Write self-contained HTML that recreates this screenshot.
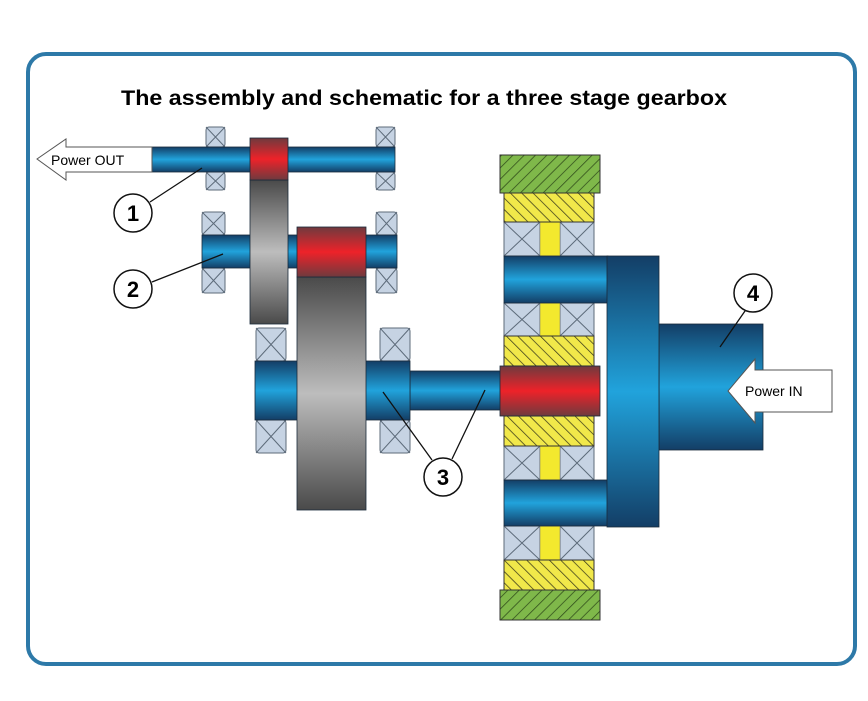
<!DOCTYPE html>
<html><head><meta charset="utf-8"><style>html,body{margin:0;padding:0;background:#fff}svg{display:block}</style></head>
<body>
<svg width="868" height="701" viewBox="0 0 868 701" xmlns="http://www.w3.org/2000/svg">
<defs>
<linearGradient id="bl" x1="0" y1="0" x2="0" y2="1">
<stop offset="0" stop-color="#133e66"/><stop offset="0.5" stop-color="#21a3dc"/><stop offset="1" stop-color="#133e66"/></linearGradient>
<linearGradient id="rd" x1="0" y1="0" x2="0" y2="1">
<stop offset="0" stop-color="#6f3a3e"/><stop offset="0.5" stop-color="#ee2229"/><stop offset="1" stop-color="#6f3a3e"/></linearGradient>
<linearGradient id="gy" x1="0" y1="0" x2="0" y2="1">
<stop offset="0" stop-color="#4a4a4a"/><stop offset="0.5" stop-color="#bdbdbd"/><stop offset="1" stop-color="#4a4a4a"/></linearGradient>
<pattern id="gh" width="8" height="8" patternUnits="userSpaceOnUse" patternTransform="rotate(45)">
<rect width="8" height="8" fill="#7fb84a"/><line x1="0" y1="0" x2="0" y2="8" stroke="#2f4a1a" stroke-width="1.5"/></pattern>
<pattern id="yh" width="8" height="8" patternUnits="userSpaceOnUse" patternTransform="rotate(-45)">
<rect width="8" height="8" fill="#f1e84a"/><line x1="0" y1="0" x2="0" y2="8" stroke="#3a3a1a" stroke-width="1.5"/></pattern>
<g id="brg"><rect x="0" y="0" width="1" height="1" fill="#c6d3e3"/></g>
</defs>
<rect x="28" y="54" width="827" height="610" rx="18" fill="#fff" stroke="#2d79a8" stroke-width="4"/>
<text x="424" y="105" text-anchor="middle" font-family="Liberation Sans, sans-serif" font-weight="bold" font-size="21" textLength="606" lengthAdjust="spacingAndGlyphs">The assembly and schematic for a three stage gearbox</text>

<!-- bearings helper via inline rects -->
<g fill="#c6d3e3" stroke="#5d6b7a" stroke-width="1">
<!-- shaft1 -->
<rect x="206" y="127" width="19" height="20" rx="3"/><rect x="206" y="172" width="19" height="18" rx="3"/>
<rect x="376" y="127" width="19" height="20" rx="3"/><rect x="376" y="172" width="19" height="18" rx="3"/>
<!-- shaft2 -->
<rect x="202" y="212" width="23" height="23" rx="3"/><rect x="202" y="268" width="23" height="25" rx="3"/>
<rect x="376" y="212" width="21" height="23" rx="3"/><rect x="376" y="268" width="21" height="25" rx="3"/>
<!-- shaft3 -->
<rect x="256" y="328" width="30" height="33" rx="3"/><rect x="256" y="420" width="30" height="33" rx="3"/>
<rect x="380" y="328" width="30" height="33" rx="3"/><rect x="380" y="420" width="30" height="33" rx="3"/>
<!-- planetary bearings -->
<rect x="504" y="222" width="36" height="34"/><rect x="560" y="222" width="34" height="34"/>
<rect x="504" y="303" width="36" height="33"/><rect x="560" y="303" width="34" height="33"/>
<rect x="504" y="446" width="36" height="34"/><rect x="560" y="446" width="34" height="34"/>
<rect x="504" y="526" width="36" height="34"/><rect x="560" y="526" width="34" height="34"/>
</g>
<g stroke="#5d6b7a" stroke-width="1">
<path d="M206 127L225 147M225 127L206 147M206 172L225 190M225 172L206 190M376 127L395 147M395 127L376 147M376 172L395 190M395 172L376 190"/>
<path d="M202 212L225 235M225 212L202 235M202 268L225 293M225 268L202 293M376 212L397 235M397 212L376 235M376 268L397 293M397 268L376 293"/>
<path d="M256 328L286 361M286 328L256 361M256 420L286 453M286 420L256 453M380 328L410 361M410 328L380 361M380 420L410 453M410 420L380 453"/>
<path d="M504 222L540 256M540 222L504 256M560 222L594 256M594 222L560 256M504 303L540 336M540 303L504 336M560 303L594 336M594 303L560 336"/>
<path d="M504 446L540 480M540 446L504 480M560 446L594 480M594 446L560 480M504 526L540 560M540 526L504 560M560 526L594 560M594 526L560 560"/>
</g>
<!-- yellow bars -->
<g fill="#f3e92e" stroke="#777" stroke-width="0.5">
<rect x="540" y="222" width="20" height="34"/><rect x="540" y="303" width="20" height="33"/>
<rect x="540" y="446" width="20" height="34"/><rect x="540" y="526" width="20" height="34"/>
</g>
<!-- hatched -->
<g stroke="#333" stroke-width="1">
<rect x="500" y="155" width="100" height="38" fill="url(#gh)"/>
<rect x="504" y="193" width="90" height="29" fill="url(#yh)"/>
<rect x="504" y="336" width="90" height="30" fill="url(#yh)"/>
<rect x="504" y="416" width="90" height="30" fill="url(#yh)"/>
<rect x="504" y="560" width="90" height="30" fill="url(#yh)"/>
<rect x="500" y="590" width="100" height="30" fill="url(#gh)"/>
</g>

<!-- shafts -->
<g stroke="#1a2a3a" stroke-width="0.8">
<rect x="152" y="147" width="243" height="25" fill="url(#bl)"/>
<rect x="202" y="235" width="195" height="33" fill="url(#bl)"/>
<rect x="410" y="371" width="92" height="39" fill="url(#bl)"/>
<rect x="255" y="361" width="155" height="59" fill="url(#bl)"/>
<rect x="504" y="256" width="104" height="47" fill="url(#bl)"/>
<rect x="504" y="480" width="104" height="46" fill="url(#bl)"/>
<rect x="659" y="324" width="104" height="126" fill="url(#bl)"/>
<rect x="607" y="256" width="52" height="271" fill="url(#bl)"/>
<!-- gears -->
<rect x="250" y="180" width="38" height="144" fill="url(#gy)"/>
<rect x="250" y="138" width="38" height="42" fill="url(#rd)"/>
<rect x="297" y="277" width="69" height="233" fill="url(#gy)"/>
<rect x="297" y="227" width="69" height="50" fill="url(#rd)"/>
<rect x="500" y="366" width="100" height="50" fill="url(#rd)"/>
</g>

<!-- arrows -->
<path d="M152 147H66V139L37 159L66 180V172H152Z" fill="#fff" stroke="#555" stroke-width="1"/>
<text x="51" y="165" font-family="Liberation Sans, sans-serif" font-size="14">Power OUT</text>
<path d="M832 370H755V359L728 391L755 423V412H832Z" fill="#fff" stroke="#555" stroke-width="1"/>
<text x="745" y="396" font-family="Liberation Sans, sans-serif" font-size="14">Power IN</text>

<!-- leaders -->
<g stroke="#111" stroke-width="1.3" fill="none">
<path d="M150 202L202 168M152 282L223 254M432 460L383 392M452 459L485 390M745 311L720 347"/>
</g>
<g fill="#fff" stroke="#111" stroke-width="1.5">
<circle cx="133" cy="213" r="19"/><circle cx="133" cy="289" r="19"/>
<circle cx="443" cy="477" r="19"/><circle cx="753" cy="293" r="19"/>
</g>
<g font-family="Liberation Sans, sans-serif" font-weight="bold" font-size="22" text-anchor="middle">
<text x="133" y="221">1</text><text x="133" y="297">2</text><text x="443" y="485">3</text><text x="753" y="301">4</text>
</g>
</svg>
</body></html>
